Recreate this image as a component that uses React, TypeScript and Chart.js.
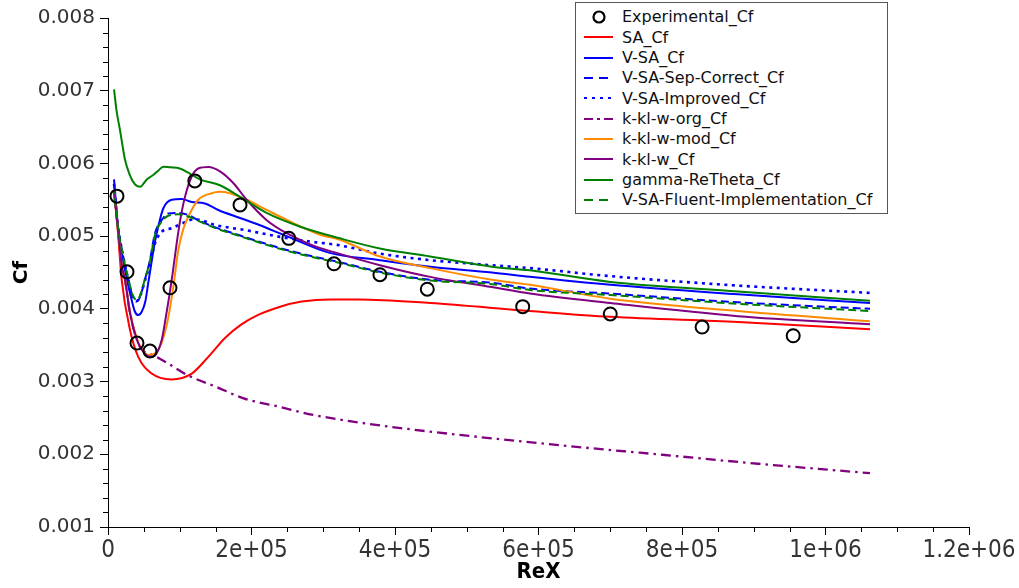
import React, { useEffect, useRef } from "react";
import { Chart, registerables } from "chart.js";

Chart.register(...registerables);

const xTickValues = [0, 200000, 400000, 600000, 800000, 1000000, 1200000];
const xTickLabels = ["0", "2e+05", "4e+05", "6e+05", "8e+05", "1e+06", "1.2e+06"];
const yTickValues = [0.001, 0.002, 0.003, 0.004, 0.005, 0.006, 0.007, 0.008];
const yTickLabels = ["0.001", "0.002", "0.003", "0.004", "0.005", "0.006", "0.007", "0.008"];

// Experimental_Cf
const expX = [12500, 26500, 40400, 58500, 86400, 121000, 184000, 252000, 315000, 379000, 445000, 578000, 700000, 828000, 955000];
const expY = [0.00555, 0.00451, 0.00353, 0.00342, 0.00429, 0.00576, 0.00543, 0.00497, 0.00462, 0.00447, 0.00427, 0.00403, 0.00393, 0.00375, 0.00363];

// SA_Cf
const saX = [8400, 13900, 19100, 30700, 42200, 60900, 88800, 116700, 139800, 163100, 185000, 210000, 240000, 270000, 310000, 350000, 448800, 588000, 700000, 878000, 1062000];
const saY = [0.00563, 0.00505, 0.0044, 0.00371, 0.00334, 0.00311, 0.00303, 0.00311, 0.00334, 0.0036, 0.00378, 0.00392, 0.00403, 0.0041, 0.00413, 0.00413, 0.00408, 0.00397, 0.00389, 0.00382, 0.00372];

// V-SA_Cf
const vsaX = [8400, 13900, 23700, 33000, 37600, 42200, 47000, 52000, 56000, 60000, 65000, 70000, 77000, 88800, 102700, 116700, 135000, 153700, 184000, 211800, 249000, 309000, 379000, 449000, 535000, 588000, 700000, 878000, 1062000];
const vsaY = [0.00578, 0.00513, 0.00453, 0.00412, 0.00396, 0.003915, 0.00396, 0.0041, 0.00435, 0.0046, 0.0049, 0.00513, 0.00538, 0.0055, 0.00551, 0.00547, 0.00545, 0.00536, 0.00525, 0.00515, 0.005, 0.00477, 0.00467, 0.00458, 0.0045, 0.00444, 0.00433, 0.0042, 0.00408];

// V-SA-Sep-Correct_Cf
const sepX = [8400, 13900, 20000, 28300, 34000, 40000, 45000, 50600, 58500, 65500, 74800, 84000, 98000, 112000, 126000, 147000, 174600, 211800, 249000, 286000, 319000, 379000, 449000, 535000, 588000, 700000, 878000, 1062000];
const sepY = [0.00572, 0.00513, 0.00478, 0.0044, 0.00418, 0.0041, 0.00417, 0.00437, 0.00467, 0.00504, 0.00522, 0.00531, 0.00532, 0.00529, 0.00522, 0.00513, 0.00504, 0.00492, 0.00481, 0.00472, 0.00465, 0.00451, 0.0044, 0.00436, 0.00428, 0.00421, 0.00409, 0.004];

// V-SA-Improved_Cf
const impX = [8400, 13900, 20000, 28300, 34000, 40000, 45000, 50600, 58500, 65500, 74800, 88800, 107000, 119000, 130000, 147000, 193000, 240000, 286000, 319000, 379000, 449000, 535000, 588000, 700000, 878000, 1062000];
const impY = [0.00572, 0.00513, 0.00478, 0.0044, 0.00418, 0.00411, 0.00418, 0.00436, 0.00462, 0.0049, 0.00506, 0.00511, 0.00519, 0.00523, 0.00522, 0.00516, 0.00508, 0.00499, 0.00492, 0.00488, 0.00476, 0.00467, 0.0046, 0.00456, 0.00445, 0.00432, 0.00422];

// k-kl-w-org_Cf
const orgX = [8400, 13900, 19100, 23700, 30700, 42200, 51600, 58500, 80000, 110600, 150000, 189000, 240000, 286800, 384700, 515000, 645000, 776000, 906000, 1062000];
const orgY = [0.00563, 0.0051, 0.0046, 0.0044, 0.00394, 0.003525, 0.0034, 0.00338, 0.00327, 0.00309, 0.00293, 0.00277, 0.00265, 0.00254, 0.00239, 0.00224, 0.00211, 0.00199, 0.00187, 0.00174];

// k-kl-w-mod_Cf
const modX = [8400, 13900, 19100, 23700, 30700, 42200, 51600, 56000, 65500, 72000, 78000, 84000, 91000, 98000, 105000, 112000, 125800, 144500, 155000, 170000, 193300, 221200, 258300, 295500, 323000, 379000, 449000, 535000, 588000, 700000, 878000, 1062000];
const modY = [0.00563, 0.0051, 0.0046, 0.00441, 0.00396, 0.00354, 0.00339, 0.003365, 0.00339, 0.00347, 0.00363, 0.00388, 0.0043, 0.00481, 0.0051, 0.00527, 0.0055, 0.00559, 0.00561, 0.00559, 0.0055, 0.00536, 0.00518, 0.00502, 0.00495, 0.00472, 0.00456, 0.0044, 0.00433, 0.00414, 0.00397, 0.00383];

// k-kl-w_Cf
const kklwX = [8400, 13900, 19100, 23700, 30700, 42200, 51600, 58500, 65500, 74800, 80000, 85000, 90000, 95700, 101000, 107300, 116700, 125800, 140000, 156000, 174600, 193300, 221200, 249000, 286000, 315000, 379000, 449000, 535000, 588000, 700000, 878000, 1062000];
const kklwY = [0.00563, 0.0051, 0.0046, 0.0044, 0.00394, 0.003525, 0.00338, 0.00334, 0.00336, 0.00357, 0.00385, 0.00415, 0.00448, 0.0049, 0.00524, 0.00554, 0.00582, 0.00593, 0.00595, 0.00589, 0.00573, 0.0055, 0.00522, 0.00504, 0.00487, 0.00478, 0.0046, 0.00444, 0.0043, 0.00421, 0.00408, 0.0039, 0.00379];

// gamma-ReTheta_Cf
const grtX = [8400, 12000, 16700, 23700, 30000, 37000, 45500, 50000, 54000, 63000, 70000, 77000, 86400, 100000, 114000, 128000, 156000, 184000, 221000, 268000, 323000, 379000, 449000, 535000, 588000, 700000, 878000, 1062000];
const grtY = [0.00702, 0.00672, 0.00646, 0.00605, 0.00585, 0.00572, 0.00568, 0.00573, 0.00578, 0.00584, 0.0059, 0.005955, 0.005946, 0.00593, 0.00586, 0.00578, 0.0057, 0.00554, 0.00532, 0.00513, 0.00497, 0.00483, 0.00472, 0.00458, 0.00453, 0.00437, 0.00424, 0.00411];

// V-SA-Fluent-Implementation_Cf
const fluX = [8400, 13900, 20000, 28300, 34000, 40000, 45000, 50600, 58500, 65500, 74800, 84000, 98000, 112000, 126000, 147000, 174600, 211800, 249000, 286000, 319000, 379000, 449000, 535000, 588000, 700000, 878000, 1062000];
const fluY = [0.0056, 0.00512, 0.00477, 0.00441, 0.0042, 0.00412, 0.00419, 0.00438, 0.00466, 0.00502, 0.0052, 0.00528, 0.0053, 0.00527, 0.00521, 0.00512, 0.00503, 0.00491, 0.0048, 0.00471, 0.00464, 0.0045, 0.00439, 0.00434, 0.00426, 0.00419, 0.00407, 0.00397];

type Series = {
  label: string;
  xs: number[];
  ys: number[];
  color: string;
  dash: number[];
  dashOffset?: number;
  width?: number;
  legendDash: string;
};

const lineSeries: Series[] = [
  { label: "SA_Cf", xs: saX, ys: saY, color: "#ff0000", dash: [], legendDash: "" },
  { label: "V-SA_Cf", xs: vsaX, ys: vsaY, color: "#0000ff", dash: [], legendDash: "" },
  { label: "V-SA-Sep-Correct_Cf", xs: sepX, ys: sepY, color: "#0000ff", dash: [8, 4], legendDash: "9 6" },
  { label: "V-SA-Improved_Cf", xs: impX, ys: impY, color: "#0000ff", dash: [3, 4.5], width: 2.6, legendDash: "3 5" },
  { label: "k-kl-w-org_Cf", xs: orgX, ys: orgY, color: "#800080", dash: [10, 5, 2.5, 5], width: 2.3, legendDash: "9 4 3 4" },
  { label: "k-kl-w-mod_Cf", xs: modX, ys: modY, color: "#ff8c00", dash: [], legendDash: "" },
  { label: "k-kl-w_Cf", xs: kklwX, ys: kklwY, color: "#800080", dash: [], legendDash: "" },
  { label: "gamma-ReTheta_Cf", xs: grtX, ys: grtY, color: "#008000", dash: [], legendDash: "" },
  { label: "V-SA-Fluent-Implementation_Cf", xs: fluX, ys: fluY, color: "#008000", dash: [8, 4], dashOffset: 6, legendDash: "9 6" },
];

const toPoints = (xs: number[], ys: number[]) => xs.map((x, i) => ({ x, y: ys[i] }));

const minorTicks = {
  id: "minorTicks",
  afterDraw(chart: any) {
    const { ctx } = chart;
    const xs = chart.scales.x;
    const ys = chart.scales.y;
    ctx.save();
    ctx.strokeStyle = "#000";
    ctx.lineWidth = 1;
    ctx.beginPath();
    for (let k = 1; k < 24; k++) {
      if (k % 4 === 0) continue;
      const px = Math.round(xs.getPixelForValue(k * 50000)) + 0.5;
      ctx.moveTo(px, ys.bottom);
      ctx.lineTo(px, ys.bottom + 5);
    }
    for (let k = 1; k < 35; k++) {
      if (k % 5 === 0) continue;
      const py = Math.round(ys.getPixelForValue(0.001 + k * 0.0002)) + 0.5;
      ctx.moveTo(xs.left - 5, py);
      ctx.lineTo(xs.left, py);
    }
    ctx.stroke();
    ctx.restore();
  },
};

function ChartCanvas() {
  const ref = useRef<HTMLCanvasElement | null>(null);
  useEffect(() => {
    if (!ref.current) return;
    Chart.defaults.font.family = "'DejaVu Sans', sans-serif";
    const datasets: any[] = [
      {
        label: "Experimental_Cf",
        data: toPoints(expX, expY),
        showLine: false,
        pointRadius: 6.5,
        pointHoverRadius: 6.5,
        pointBorderWidth: 2,
        pointBorderColor: "#000",
        pointBackgroundColor: "rgba(0,0,0,0)",
        borderColor: "#000",
        order: 0,
      },
      ...lineSeries.map((s, i) => ({
        label: s.label,
        data: toPoints(s.xs, s.ys),
        borderColor: s.color,
        backgroundColor: s.color,
        borderWidth: s.width || 2,
        borderDash: s.dash,
        borderDashOffset: s.dashOffset || 0,
        pointRadius: 0,
        cubicInterpolationMode: "monotone",
        fill: false,
        order: 20 - i,
      })),
    ];
    const chart = new Chart(ref.current, {
      type: "line",
      data: { datasets },
      plugins: [minorTicks],
      options: {
        animation: false,
        responsive: false,
        devicePixelRatio: 1,
        layout: { padding: { left: 0, right: 50, top: 18, bottom: 0 } },
        plugins: { legend: { display: false }, tooltip: { enabled: false } },
        scales: {
          x: {
            type: "linear",
            min: 0,
            max: 1200000,
            afterFit: (scale: any) => {
              scale.height = 61;
            },
            afterBuildTicks: (axis: any) => {
              axis.ticks = xTickValues.map((v) => ({ value: v }));
            },
            ticks: {
              autoSkip: false,
              maxRotation: 0,
              padding: 1,
              color: "#333",
              font: { size: 24, family: "'DejaVu Sans Condensed', 'DejaVu Sans', sans-serif" },
              callback: (_v: any, i: number) => xTickLabels[i],
            },
            grid: { drawOnChartArea: false, drawTicks: true, tickLength: 8, color: "#000" },
            border: { display: true, color: "#000", width: 1 },
            title: {
              display: true,
              text: "ReX",
              color: "#000",
              font: { size: 22, weight: "bold", family: "'DejaVu Sans Condensed', 'DejaVu Sans', sans-serif" },
              padding: { top: 0, bottom: 3 },
            },
          },
          y: {
            type: "linear",
            min: 0.001,
            max: 0.008,
            afterFit: (scale: any) => {
              scale.width = 108;
            },
            afterBuildTicks: (axis: any) => {
              axis.ticks = yTickValues.map((v) => ({ value: v }));
            },
            ticks: {
              autoSkip: false,
              padding: 5,
              color: "#333",
              font: { size: 20 },
              callback: (_v: any, i: number) => yTickLabels[i],
            },
            grid: { drawOnChartArea: false, drawTicks: true, tickLength: 8, color: "#000" },
            border: { display: true, color: "#000", width: 1 },
            title: {
              display: true,
              text: "Cf",
              color: "#000",
              font: { size: 20, weight: "bold" },
              padding: { top: 10, bottom: 0 },
            },
          },
        },
      } as any,
    });
    return () => chart.destroy();
  }, []);
  return <canvas ref={ref} width={1019} height={588} style={{ display: "block", width: 1019, height: 588 }} />;
}

function Legend() {
  const rows = [{ label: "Experimental_Cf", marker: true, color: "#000", legendDash: "" } as any, ...lineSeries];
  return (
    <div
      style={{
        position: "absolute",
        left: 575,
        top: 2,
        width: 313,
        height: 212,
        border: "1px solid #555",
        background: "#fff",
        boxSizing: "border-box",
        fontFamily: "'DejaVu Sans', sans-serif",
        fontSize: 16,
        color: "#111",
      }}
    >
      {rows.map((r: any, i: number) => (
        <div
          key={r.label}
          style={{
            position: "absolute",
            left: 0,
            top: 14.8 + i * 20.35 - 1 - 10,
            height: 20,
            display: "flex",
            alignItems: "center",
            whiteSpace: "nowrap",
          }}
        >
          <svg width={46} height={20} style={{ display: "block" }}>
            {r.marker ? (
              <circle cx={23} cy={10} r={5.5} fill="none" stroke="#000" strokeWidth={2.2} />
            ) : (
              <line x1={8} y1={10} x2={37} y2={10} stroke={r.color} strokeWidth={2} strokeDasharray={r.legendDash || undefined} />
            )}
          </svg>
          <span>{r.label}</span>
        </div>
      ))}
    </div>
  );
}

export default function App() {
  return (
    <div style={{ position: "absolute", left: 0, top: 0, width: 1019, height: 588, background: "#fff", overflow: "hidden" }}>
      <ChartCanvas />
      <Legend />
    </div>
  );
}
